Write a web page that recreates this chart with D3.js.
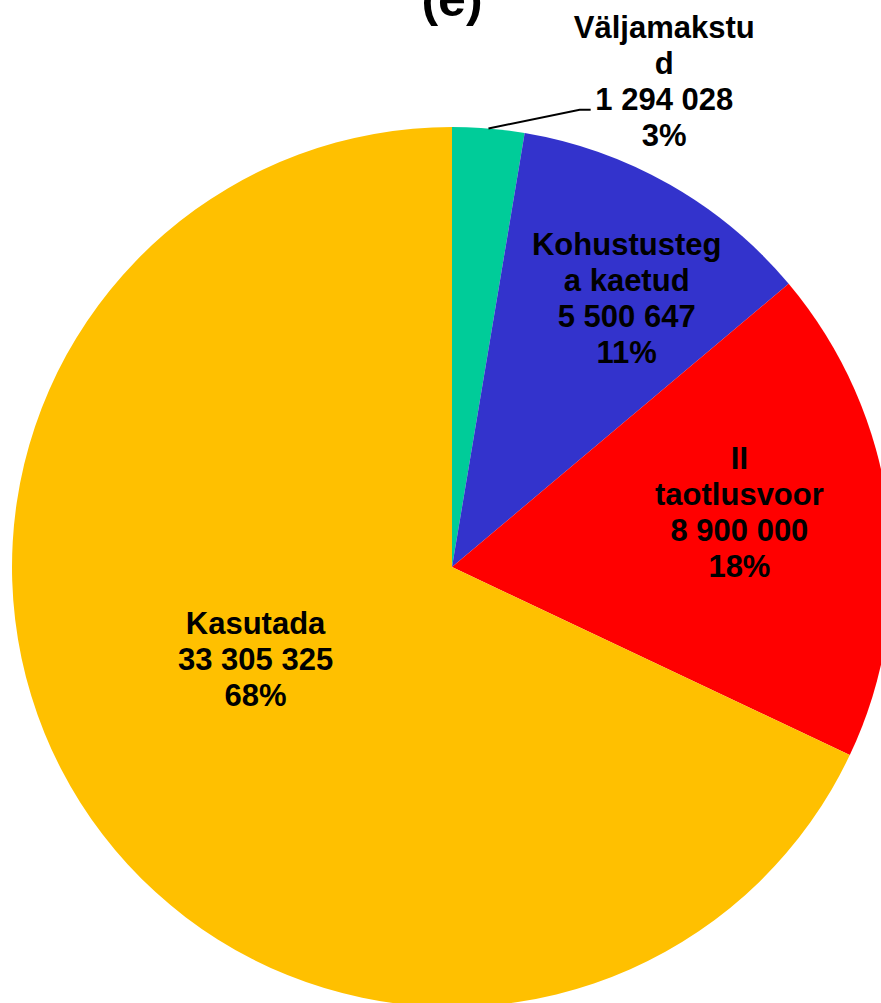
<!DOCTYPE html>
<html>
<head>
<meta charset="utf-8">
<script src="https://cdn.jsdelivr.net/npm/d3@7"></script>
<style>
  html, body { margin: 0; padding: 0; background: #fff; }
  svg { display: block; }
</style>
</head>
<body>
<svg id="chart" width="881" height="1003"></svg>
<script>
// ---- data ----
const categories = ["Väljamakstud", "Kohustustega kaetud", "II taotlusvoor", "Kasutada"];
const labelLines = [["Väljamakstu", "d"], ["Kohustusteg", "a kaetud"], ["II", "taotlusvoor"], ["Kasutada"]];
const values = [1294028, 5500647, 8900000, 33305325];
const colors = ["#00CC99", "#3333CC", "#FF0000", "#FFC000"];
const title = "(e)";

// ---- layout ----
const W = 881, H = 1003;
const cx = 452, cy = 567, R = 440;
// label anchor in polar form: [angle in degrees clockwise from top, radius as fraction of R]
const labelAnchor = [[23.6, 1.205], [33.0, 0.729], [79.2, 0.665], [244.9, 0.493]];
const leaderElbow = [15.6, 1.079];
const fontSize = 31, lineH = 36;

const svg = d3.select("#chart");
const total = d3.sum(values);
const fmtNum = v => d3.format(",")(v).replace(/,/g, " ");
const fmtPct = d3.format(".0%");

const pie = d3.pie().sort(null).value(d => d)(values);
const arc = d3.arc().innerRadius(0).outerRadius(R);

const g = svg.append("g").attr("transform", `translate(${cx},${cy})`);
g.selectAll("path.slice")
  .data(pie)
  .join("path")
  .attr("class", "slice")
  .attr("d", arc)
  .attr("fill", (d, i) => colors[i]);

const polar = (deg, r) => {
  const a = deg * Math.PI / 180;
  return [r * Math.sin(a), -r * Math.cos(a)];
};

// leader line for the small slice
{
  const d = pie[0];
  const mid = (d.startAngle + d.endAngle) / 2 * 180 / Math.PI;
  const p0 = polar(mid, R);
  const p1 = polar(leaderElbow[0], leaderElbow[1] * R);
  const p2 = [p1[0] + 11, p1[1]];
  g.append("polyline")
    .attr("points", [p0, p1, p2].map(p => p.join(",")).join(" "))
    .attr("fill", "none")
    .attr("stroke", "#000")
    .attr("stroke-width", 2);
}

// labels
pie.forEach((d, i) => {
  const [ax, ay] = polar(labelAnchor[i][0], labelAnchor[i][1] * R);
  const lines = labelLines[i].concat([fmtNum(values[i]), fmtPct(values[i] / total)]);
  const n = lines.length;
  const firstBaseline = ay - (n - 1) * lineH / 2 + fontSize * 0.36;
  const t = g.append("text")
    .attr("text-anchor", "middle")
    .attr("font-family", "'Liberation Sans', Arial, sans-serif")
    .attr("font-weight", "bold")
    .attr("font-size", fontSize)
    .attr("fill", "#000");
  lines.forEach((ln, k) => {
    t.append("tspan")
      .attr("x", ax)
      .attr("y", firstBaseline + k * lineH)
      .text(ln);
  });
});

// title
svg.append("text")
  .attr("x", cx)
  .attr("y", 16)
  .attr("text-anchor", "middle")
  .attr("font-family", "'Liberation Sans', Arial, sans-serif")
  .attr("font-weight", "bold")
  .attr("font-size", 50)
  .attr("fill", "#000")
  .text(title);
</script>
</body>
</html>
